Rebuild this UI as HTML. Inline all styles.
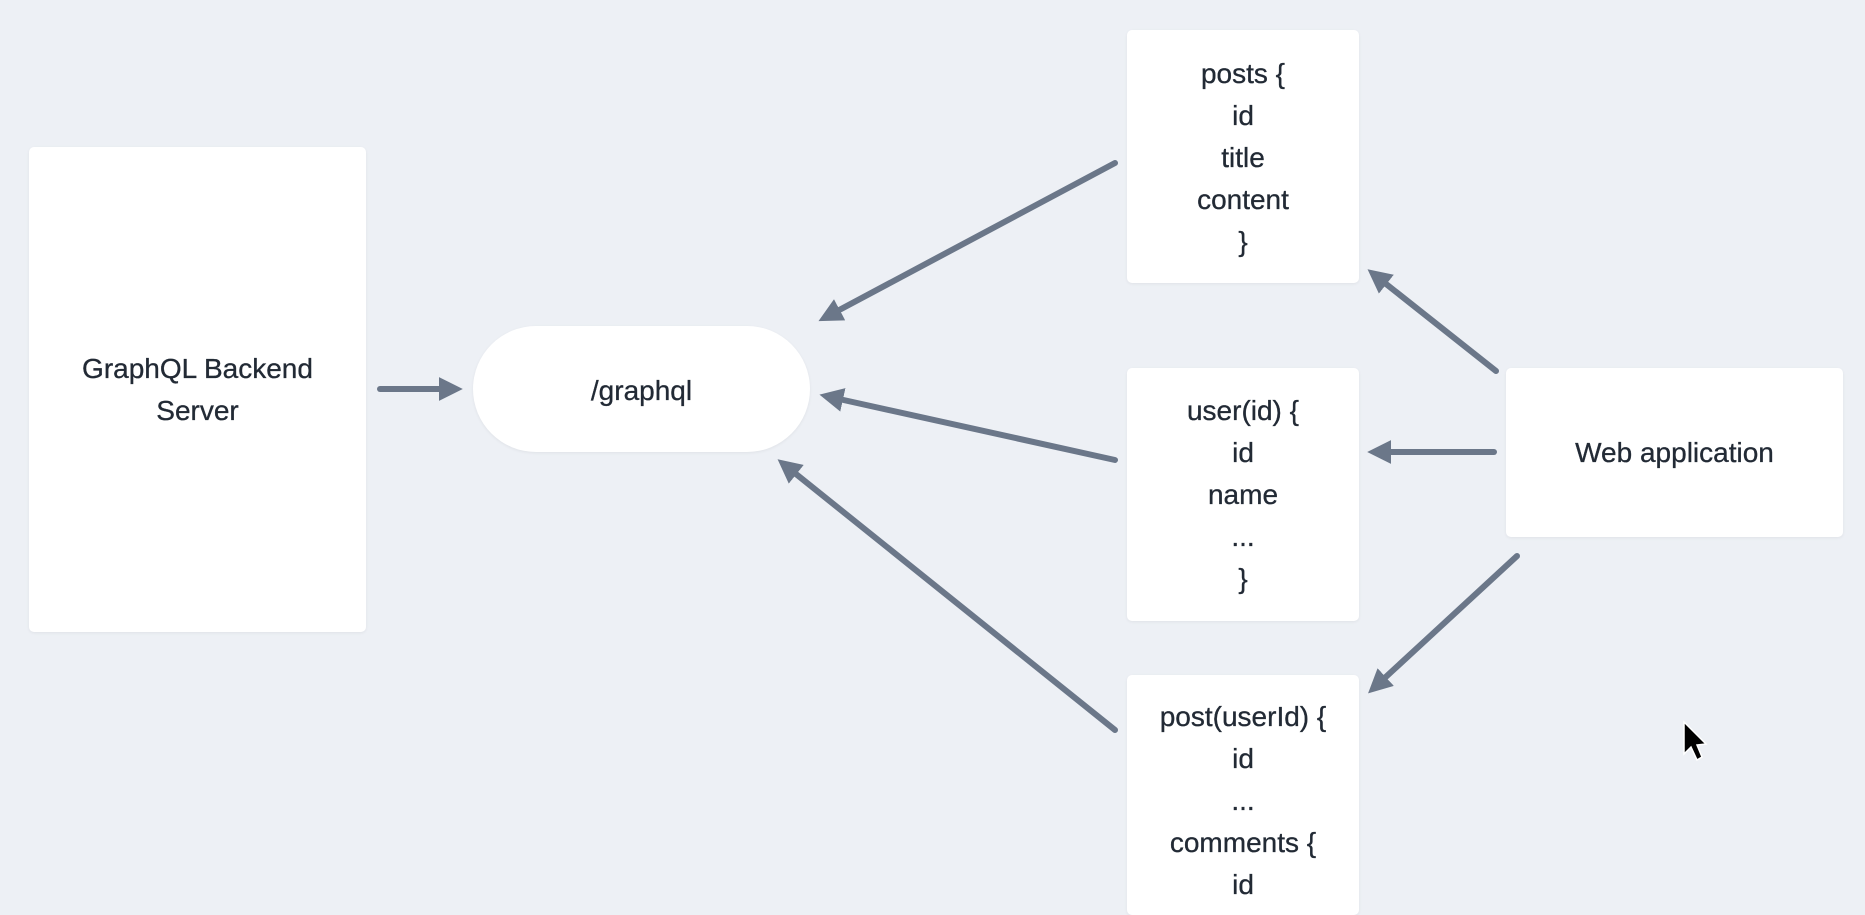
<!DOCTYPE html>
<html><head><meta charset="utf-8"><style>
html,body{margin:0;padding:0}
body{width:1865px;height:901px;background:#edf0f5;position:relative;overflow:hidden;font-family:"Liberation Sans",sans-serif;color:#222a35}
.b{position:absolute;background:#fff;border-radius:5px;box-shadow:0 1px 3px rgba(0,0,0,.06)}
.t{position:absolute;left:0;right:0;text-align:center;font-size:28px;line-height:42px;-webkit-text-stroke:0.3px #222a35}
svg{position:absolute;left:0;top:0}
</style></head><body>
<div class="b" style="left:29px;top:147px;width:337px;height:485px"><div class="t" style="top:201px">GraphQL Backend<br>Server</div></div>
<div class="b" style="left:473px;top:326px;width:337px;height:126px;border-radius:63px"><div class="t" style="top:44px">/graphql</div></div>
<div class="b" style="left:1127px;top:30px;width:232px;height:253px"><div class="t" style="top:23px">posts {<br>id<br>title<br>content<br>}</div></div>
<div class="b" style="left:1127px;top:368px;width:232px;height:253px"><div class="t" style="top:22px">user(id) {<br>id<br>name<br>...<br>}</div></div>
<div class="b" style="left:1127px;top:675px;width:232px;height:240px"><div class="t" style="top:21px">post(userId) {<br>id<br>...<br>comments {<br>id</div></div>
<div class="b" style="left:1506px;top:368px;width:337px;height:169px"><div class="t" style="top:64px">Web application</div></div>
<svg width="1865" height="901">
<defs><marker id="a" markerWidth="4" markerHeight="4" refX="2.2" refY="2" orient="auto" markerUnits="strokeWidth"><path d="M0,0 L4,2 L0,4 z" fill="#6b7789"/></marker></defs>
<g stroke="#6b7789" stroke-width="6" stroke-linecap="round" fill="none" marker-end="url(#a)">
<line x1="380" y1="389" x2="452" y2="389"/>
<line x1="1115" y1="163" x2="828" y2="316"/>
<line x1="1115" y1="460" x2="830" y2="397"/>
<line x1="1115" y1="730" x2="786" y2="466"/>
<line x1="1496" y1="371" x2="1376" y2="276"/>
<line x1="1494" y1="452" x2="1378" y2="452"/>
<line x1="1517" y1="556" x2="1376" y2="686"/>
</g>
<path d="M1684,722 L1684,754 L1691,747 L1697,760 L1702,757 L1697,745 L1706,744 z" fill="#000" stroke="#fff" stroke-width="1.5"/>
</svg>
</body></html>
